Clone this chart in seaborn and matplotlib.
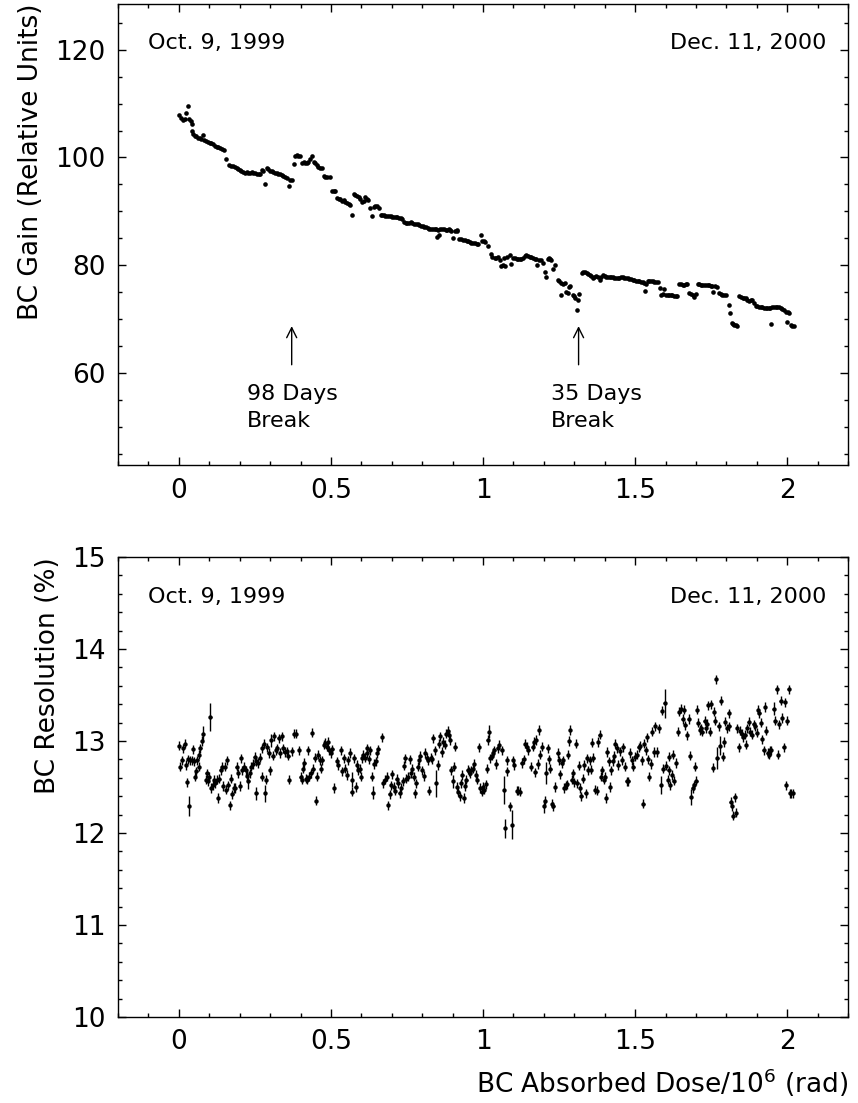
import numpy as np
import matplotlib
matplotlib.use("Agg")
import matplotlib.pyplot as plt
from matplotlib.ticker import MultipleLocator, FuncFormatter
import seaborn as sns

# BC gain vs absorbed dose (top panel)
gain_dose = [
    0.002, 0.008, 0.013, 0.019, 0.024, 0.031, 0.035, 0.040, 0.043, 0.044, 0.048, 0.052, 0.057, 0.062,
    0.068, 0.073, 0.079, 0.084, 0.090, 0.096, 0.102, 0.107, 0.112, 0.118, 0.124, 0.129, 0.135, 0.141,
    0.148, 0.156, 0.165, 0.172, 0.178, 0.184, 0.190, 0.195, 0.200, 0.206, 0.212, 0.217, 0.223, 0.228,
    0.233, 0.239, 0.245, 0.250, 0.256, 0.262, 0.267, 0.272, 0.278, 0.283, 0.289, 0.294, 0.300, 0.305,
    0.311, 0.316, 0.322, 0.327, 0.333, 0.338, 0.344, 0.350, 0.355, 0.363, 0.366, 0.371,
    0.377, 0.382, 0.388, 0.393, 0.399, 0.404, 0.410, 0.415, 0.421, 0.426, 0.432, 0.437, 0.443, 0.448,
    0.454, 0.459, 0.465, 0.470, 0.476, 0.481, 0.488, 0.496, 0.503, 0.509, 0.514, 0.520, 0.525, 0.531,
    0.536, 0.542, 0.547, 0.552, 0.558, 0.563, 0.569, 0.575, 0.580, 0.586, 0.592, 0.597, 0.602, 0.608,
    0.613, 0.618, 0.622, 0.630, 0.635, 0.640, 0.646, 0.651, 0.657, 0.663, 0.668, 0.674, 0.679, 0.685,
    0.690, 0.696, 0.701, 0.707, 0.713, 0.718, 0.724, 0.729, 0.735, 0.740, 0.746, 0.751, 0.757, 0.762,
    0.768, 0.773, 0.779, 0.785, 0.790, 0.796, 0.801, 0.807, 0.812, 0.818, 0.823, 0.828, 0.835, 0.841,
    0.846, 0.849, 0.852, 0.855, 0.860, 0.866, 0.871, 0.877, 0.882, 0.888, 0.891, 0.896, 0.902, 0.908,
    0.913, 0.916, 0.922, 0.929, 0.935, 0.940, 0.946, 0.951, 0.957, 0.962, 0.968, 0.973, 0.979, 0.984,
    0.992, 0.998, 1.003, 1.008, 1.016, 1.025, 1.031, 1.038, 1.044, 1.049, 1.055, 1.060, 1.066, 1.069,
    1.073, 1.080, 1.087, 1.093, 1.099, 1.104, 1.110, 1.115, 1.121, 1.126, 1.132, 1.137, 1.142, 1.148,
    1.153, 1.158, 1.164, 1.170, 1.175, 1.178, 1.184, 1.191, 1.197, 1.202, 1.208, 1.212, 1.216, 1.220,
    1.224, 1.230, 1.237, 1.246, 1.251, 1.255, 1.257, 1.262, 1.268, 1.273, 1.279, 1.283, 1.287, 1.295,
    1.299, 1.303, 1.309, 1.311, 1.317,
    1.325, 1.330, 1.336, 1.341, 1.346, 1.350, 1.356, 1.361, 1.366, 1.372, 1.377, 1.383, 1.389, 1.394,
    1.400, 1.405, 1.410, 1.416, 1.421, 1.426, 1.432, 1.437, 1.443, 1.448, 1.453, 1.459, 1.464, 1.470,
    1.475, 1.481, 1.486, 1.492, 1.497, 1.502, 1.508, 1.514, 1.519, 1.525, 1.530, 1.533, 1.536, 1.541,
    1.546, 1.552, 1.557, 1.563, 1.568, 1.574, 1.580, 1.585, 1.590, 1.596, 1.601, 1.607, 1.612, 1.617,
    1.622, 1.628, 1.633, 1.637, 1.645, 1.650, 1.656, 1.661, 1.667, 1.672, 1.678, 1.683, 1.689, 1.694,
    1.699, 1.705, 1.710, 1.716, 1.721, 1.727, 1.732, 1.738, 1.743, 1.749, 1.754, 1.757, 1.763, 1.770,
    1.776, 1.781, 1.787, 1.792, 1.798, 1.809, 1.812, 1.817, 1.821, 1.825, 1.830, 1.834, 1.842, 1.847,
    1.853, 1.858, 1.863, 1.869, 1.874, 1.880, 1.885, 1.890, 1.896, 1.901, 1.907, 1.912, 1.918, 1.923,
    1.929, 1.934, 1.940, 1.943, 1.945, 1.951, 1.956, 1.962, 1.967, 1.973, 1.978, 1.984, 1.989, 1.995,
    1.998, 2.001, 2.006, 2.011, 2.016, 2.022,
]
gain_val = [
    107.9, 107.3, 107.0, 107.1, 108.2, 109.5, 107.1, 106.8, 106.2, 104.9, 104.3, 104.0, 103.9, 103.7,
    103.6, 103.4, 104.2, 103.2, 103.0, 102.8, 102.7, 102.6, 102.5, 102.2, 102.0, 101.9, 101.7, 101.5,
    101.3, 99.7, 98.6, 98.5, 98.4, 98.3, 98.0, 97.9, 97.7, 97.5, 97.3, 97.2, 97.3, 97.2,
    97.2, 97.3, 97.2, 97.1, 97.0, 96.9, 96.9, 97.7, 97.5, 95.0, 98.0, 97.8, 97.5, 97.4,
    97.3, 97.2, 97.1, 97.0, 96.9, 96.8, 96.6, 96.4, 96.1, 94.7, 95.9, 95.8,
    98.8, 100.3, 100.4, 100.3, 100.3, 99.0, 99.1, 99.0, 98.9, 99.2, 99.8, 100.2, 99.2, 98.9,
    98.6, 98.3, 98.1, 98.0, 96.5, 96.4, 96.4, 96.4, 93.7, 93.8, 93.7, 92.4, 92.2, 92.2,
    92.0, 92.1, 91.8, 91.6, 91.4, 91.2, 89.4, 93.3, 93.1, 92.9, 92.7, 92.2, 91.8, 92.0,
    92.6, 92.3, 92.1, 90.6, 89.1, 90.8, 91.0, 90.9, 90.7, 89.3, 89.4, 89.3, 89.2, 89.1,
    89.2, 89.1, 89.0, 89.0, 88.9, 88.9, 88.8, 88.7, 88.5, 88.0, 87.8, 87.9, 87.9, 88.0,
    87.9, 87.7, 87.6, 87.6, 87.5, 87.3, 87.2, 87.1, 87.0, 86.9, 86.8, 86.7, 86.8, 86.7,
    86.7, 85.3, 86.6, 85.6, 86.7, 86.8, 86.7, 86.6, 86.5, 86.7, 86.6, 86.3, 85.0, 86.4,
    86.5, 86.4, 84.9, 84.8, 84.7, 84.6, 84.5, 84.4, 84.3, 84.2, 84.1, 84.1, 84.0, 83.9,
    85.6, 84.5, 84.4, 84.3, 83.5, 82.1, 81.6, 81.3, 81.4, 81.6, 80.9, 79.9, 80.0, 81.3,
    79.8, 81.5, 81.9, 80.2, 81.4, 81.3, 81.2, 81.1, 81.2, 81.1, 81.4, 81.8, 81.9, 81.7,
    81.6, 81.5, 81.4, 81.2, 81.1, 80.1, 81.0, 81.0, 80.4, 78.8, 77.8, 81.2, 81.3, 81.1,
    81.0, 79.3, 80.1, 77.3, 77.0, 74.5, 76.7, 76.5, 76.7, 75.1, 74.9, 76.0, 76.2, 74.5,
    74.3, 73.9, 71.6, 73.6, 74.7,
    78.5, 78.7, 78.8, 78.6, 78.3, 78.2, 78.0, 77.6, 77.9, 78.0, 77.9, 77.2, 77.9, 78.2,
    78.0, 77.9, 77.9, 77.8, 77.9, 77.8, 77.7, 77.6, 77.6, 77.7, 77.8, 77.8, 77.7, 77.6,
    77.6, 77.5, 77.4, 77.3, 77.2, 77.1, 77.0, 77.0, 76.9, 76.8, 76.7, 75.3, 76.6, 77.0,
    77.0, 77.0, 77.0, 76.9, 76.9, 76.8, 75.7, 74.5, 74.6, 75.6, 74.5, 74.5, 74.4, 74.4,
    74.4, 74.3, 74.3, 74.3, 76.5, 76.6, 76.4, 76.3, 76.5, 76.5, 74.9, 74.6, 74.5, 74.1,
    74.6, 76.5, 76.5, 76.4, 76.4, 76.4, 76.3, 76.3, 76.3, 76.2, 76.2, 75.1, 76.1, 76.0,
    74.8, 74.6, 74.5, 74.5, 74.4, 72.6, 71.1, 69.2, 69.0, 68.9, 68.9, 68.8, 74.2, 74.1,
    74.0, 73.9, 73.9, 73.6, 73.4, 73.5, 73.6, 73.0, 72.4, 72.4, 72.3, 72.3, 72.2, 72.1,
    72.0, 72.0, 72.1, 72.0, 69.1, 72.2, 72.3, 72.3, 72.2, 72.2, 72.0, 71.8, 71.6, 71.4,
    69.4, 71.3, 71.2, 68.9, 68.8, 68.8,
]

# BC resolution vs absorbed dose (bottom panel)
res_dose = [
    0.001, 0.005, 0.012, 0.014, 0.020, 0.023, 0.027, 0.031, 0.034, 0.038, 0.043, 0.047, 0.049, 0.053,
    0.058, 0.061, 0.065, 0.067, 0.071, 0.076, 0.080, 0.089, 0.091, 0.095, 0.100, 0.104, 0.107, 0.111,
    0.115, 0.120, 0.124, 0.129, 0.133, 0.137, 0.141, 0.146, 0.151, 0.155, 0.159, 0.163, 0.168, 0.172,
    0.176, 0.181, 0.185, 0.190, 0.195, 0.201, 0.205, 0.209, 0.214, 0.220, 0.225, 0.229, 0.234, 0.238,
    0.245, 0.249, 0.253, 0.255, 0.261, 0.266, 0.272, 0.275, 0.280, 0.284, 0.286, 0.291, 0.295, 0.299,
    0.304, 0.308, 0.313, 0.319, 0.323, 0.328, 0.332, 0.339, 0.343, 0.349, 0.354, 0.360, 0.363, 0.371,
    0.380, 0.384, 0.395, 0.400, 0.405, 0.409, 0.413, 0.418, 0.422, 0.425, 0.429, 0.433, 0.437, 0.442,
    0.446, 0.450, 0.453, 0.459, 0.464, 0.468, 0.472, 0.477, 0.481, 0.486, 0.490, 0.495, 0.499, 0.505,
    0.510, 0.519, 0.524, 0.533, 0.537, 0.542, 0.546, 0.553, 0.557, 0.563, 0.568, 0.570, 0.577, 0.581,
    0.586, 0.590, 0.595, 0.599, 0.603, 0.607, 0.612, 0.617, 0.620, 0.626, 0.629, 0.634, 0.637, 0.643,
    0.647, 0.651, 0.656, 0.667, 0.672, 0.677, 0.683, 0.688, 0.693, 0.697, 0.701, 0.706, 0.710, 0.716,
    0.719, 0.726, 0.730, 0.737, 0.741, 0.745, 0.748, 0.754, 0.760, 0.763, 0.767, 0.772, 0.776, 0.781,
    0.785, 0.789, 0.794, 0.800, 0.805, 0.809, 0.815, 0.820, 0.823, 0.829, 0.833, 0.837, 0.842, 0.846,
    0.851, 0.855, 0.859, 0.864, 0.869, 0.875, 0.879, 0.884, 0.888, 0.892, 0.896, 0.901, 0.905, 0.909,
    0.914, 0.918, 0.923, 0.927, 0.932, 0.936, 0.940, 0.945, 0.949, 0.954, 0.958, 0.962, 0.967, 0.971,
    0.976, 0.980, 0.987, 0.991, 0.996, 1.000, 1.004, 1.009, 1.013, 1.015, 1.020, 1.024, 1.029, 1.033,
    1.037, 1.044, 1.048, 1.053, 1.061, 1.069, 1.072, 1.078, 1.080, 1.089, 1.095, 1.098, 1.102, 1.111,
    1.116, 1.121, 1.127, 1.133, 1.138, 1.144, 1.149, 1.157, 1.163, 1.168, 1.172, 1.174, 1.179, 1.183,
    1.188, 1.194, 1.200, 1.204, 1.207, 1.212, 1.216, 1.221, 1.226, 1.231, 1.237, 1.245, 1.249, 1.254,
    1.258, 1.262, 1.267, 1.271, 1.275, 1.280, 1.284, 1.286, 1.291, 1.295, 1.299, 1.306, 1.310, 1.315,
    1.319, 1.323, 1.328, 1.332, 1.337, 1.341, 1.345, 1.350, 1.354, 1.359, 1.363, 1.368, 1.374, 1.378,
    1.383, 1.387, 1.391, 1.396, 1.401, 1.404, 1.409, 1.413, 1.417, 1.422, 1.426, 1.431, 1.435, 1.439,
    1.445, 1.450, 1.456, 1.461, 1.467, 1.472, 1.478, 1.483, 1.489, 1.494, 1.500, 1.505, 1.511, 1.516,
    1.522, 1.527, 1.529, 1.534, 1.538, 1.543, 1.546, 1.552, 1.556, 1.561, 1.566, 1.572, 1.577, 1.584,
    1.589, 1.593, 1.597, 1.602, 1.607, 1.610, 1.612, 1.615, 1.621, 1.623, 1.626, 1.634, 1.640, 1.645,
    1.651, 1.656, 1.660, 1.665, 1.670, 1.676, 1.681, 1.684, 1.689, 1.693, 1.698, 1.701, 1.704, 1.708,
    1.713, 1.718, 1.721, 1.728, 1.732, 1.737, 1.741, 1.746, 1.750, 1.755, 1.759, 1.763, 1.765, 1.770,
    1.774, 1.779, 1.782, 1.788, 1.792, 1.796, 1.801, 1.807, 1.810, 1.814, 1.818, 1.823, 1.827, 1.831,
    1.835, 1.840, 1.845, 1.851, 1.856, 1.862, 1.865, 1.869, 1.873, 1.878, 1.884, 1.889, 1.895, 1.899,
    1.904, 1.908, 1.913, 1.917, 1.922, 1.926, 1.930, 1.935, 1.939, 1.943, 1.947, 1.955, 1.961, 1.965,
    1.969, 1.973, 1.978, 1.982, 1.988, 1.991, 1.995, 2.000, 2.004, 2.008, 2.013, 2.018,
]
res_val = [
    12.95, 12.72, 12.79, 12.92, 12.97, 12.74, 12.55, 12.80, 12.29, 12.79, 12.79, 12.91, 12.78, 12.61,
    12.67, 12.79, 12.72, 12.85, 12.92, 13.00, 13.08, 12.58, 12.65, 12.56, 12.61, 13.26, 12.49, 12.52,
    12.58, 12.54, 12.58, 12.38, 12.59, 12.68, 12.72, 12.51, 12.72, 12.47, 12.79, 12.52, 12.30, 12.59,
    12.42, 12.49, 12.49, 12.72, 12.65, 12.51, 12.81, 12.68, 12.72, 12.68, 12.62, 12.56, 12.65, 12.72,
    12.75, 12.83, 12.78, 12.43, 12.76, 12.82, 12.61, 12.92, 12.97, 12.43, 12.58, 12.93, 12.87, 12.68,
    13.01, 12.84, 13.05, 12.90, 12.92, 13.03, 12.87, 13.05, 12.92, 12.88, 12.89, 12.84, 12.58, 12.89,
    13.08, 13.08, 12.90, 12.61, 12.58, 12.70, 12.76, 12.59, 12.58, 12.90, 12.61, 12.65, 13.09, 12.70,
    12.82, 12.35, 12.61, 12.85, 12.79, 12.70, 12.79, 12.96, 12.98, 12.94, 12.99, 12.90, 12.87, 12.91,
    12.49, 12.78, 12.74, 12.90, 12.67, 12.81, 12.70, 12.63, 12.79, 12.87, 12.45, 12.58, 12.81, 12.50,
    12.74, 12.68, 12.70, 12.61, 12.81, 12.85, 12.82, 12.87, 12.92, 12.80, 12.90, 12.61, 12.44, 12.75,
    12.78, 12.87, 12.91, 13.04, 12.54, 12.58, 12.61, 12.30, 12.42, 12.52, 12.64, 12.50, 12.46, 12.59,
    12.54, 12.43, 12.49, 12.56, 12.73, 12.81, 12.59, 12.61, 12.80, 12.65, 12.70, 12.61, 12.43, 12.54,
    12.72, 12.79, 12.84, 12.68, 12.62, 12.87, 12.82, 12.79, 12.46, 12.82, 12.80, 13.03, 12.90, 12.54,
    12.74, 12.97, 13.05, 12.88, 12.99, 12.96, 13.08, 13.11, 13.07, 13.01, 12.68, 12.56, 12.72, 12.94,
    12.50, 12.45, 12.40, 12.54, 12.63, 12.38, 12.51, 12.58, 12.69, 12.67, 12.65, 12.68, 12.70, 12.75,
    12.63, 12.58, 12.93, 12.49, 12.45, 12.50, 12.47, 12.53, 12.70, 13.01, 13.10, 12.81, 12.84, 12.87,
    12.90, 12.75, 12.92, 12.96, 12.90, 12.47, 12.05, 12.79, 12.67, 12.29, 12.09, 12.79, 12.74, 12.46,
    12.46, 12.45, 12.76, 12.80, 12.97, 12.94, 12.90, 12.72, 12.94, 12.99, 12.66, 13.01, 12.75, 13.12,
    12.85, 12.94, 12.29, 12.35, 12.65, 12.92, 12.80, 12.70, 12.32, 12.29, 12.50, 12.87, 12.79, 12.64,
    12.76, 12.79, 12.49, 12.52, 12.53, 12.85, 13.00, 13.12, 12.58, 12.65, 12.55, 12.97, 12.54, 12.73,
    12.49, 12.40, 12.59, 12.74, 12.43, 12.81, 12.68, 12.79, 12.69, 12.98, 12.82, 12.47, 12.46, 12.99,
    13.07, 12.61, 12.68, 12.58, 12.61, 12.38, 12.88, 12.78, 12.50, 12.68, 12.78, 12.84, 12.97, 12.92,
    12.74, 12.89, 12.79, 12.93, 12.72, 12.56, 12.56, 12.87, 12.79, 12.72, 12.83, 12.85, 12.93, 12.95,
    12.79, 12.32, 12.97, 12.90, 13.04, 12.80, 12.61, 12.75, 13.10, 12.88, 13.16, 12.88, 13.14, 12.52,
    13.33, 12.70, 13.41, 12.73, 12.58, 12.68, 12.83, 12.52, 12.63, 12.85, 12.57, 12.76, 13.10, 13.32,
    13.35, 13.24, 13.34, 13.17, 13.06, 13.24, 12.84, 12.39, 12.49, 12.52, 12.72, 12.57, 13.34, 13.20,
    13.12, 13.14, 13.10, 13.22, 13.14, 13.19, 13.39, 13.10, 13.40, 12.71, 13.32, 13.22, 13.67, 12.82,
    13.16, 12.95, 13.44, 12.83, 12.99, 13.21, 13.14, 13.30, 13.16, 12.34, 12.29, 12.19, 12.39, 12.22,
    13.14, 12.93, 13.11, 13.08, 13.04, 13.07, 12.96, 13.14, 13.21, 13.10, 13.07, 13.18, 13.16, 13.09,
    13.34, 13.30, 13.20, 13.02, 12.90, 13.37, 13.11, 12.87, 12.85, 12.90, 12.90, 13.35, 13.22, 13.56,
    12.85, 13.18, 13.44, 13.25, 12.93, 13.42, 12.52, 13.22, 13.56, 12.43, 12.43, 12.43,
]
# points whose error bar is visibly longer than the usual +-0.05
res_big_err = {
    0.034: 0.11, 0.080: 0.08, 0.104: 0.15, 0.229: 0.08, 0.255: 0.07, 0.284: 0.09, 0.304: 0.07,
    0.570: 0.08, 0.637: 0.07, 0.846: 0.15, 0.901: 0.07, 1.020: 0.07, 1.069: 0.15, 1.072: 0.10,
    1.095: 0.16, 1.200: 0.07, 1.207: 0.12, 1.584: 0.10, 1.597: 0.16, 1.684: 0.09, 1.770: 0.12,
    1.779: 0.10, 1.955: 0.07,
}
res_err = [res_big_err.get(d, 0.05) for d in res_dose]

sns.set_style("ticks")
plt.rcParams['font.family'] = ['DejaVu Sans']
plt.rcParams['text.color'] = 'black'
plt.rcParams['axes.labelcolor'] = 'black'
plt.rcParams['xtick.color'] = 'black'
plt.rcParams['ytick.color'] = 'black'

fig = plt.figure(figsize=(8.58, 11.03), dpi=100)
ax1 = fig.add_axes([0.1375, 0.5784, 0.851, 0.418])
ax2 = fig.add_axes([0.1375, 0.078, 0.851, 0.417])

fmt = FuncFormatter(lambda v, p: '{:g}'.format(round(v, 3)))

for ax in (ax1, ax2):
    ax.set_xlim(-0.2, 2.2)
    ax.xaxis.set_major_locator(MultipleLocator(0.5))
    ax.xaxis.set_minor_locator(MultipleLocator(0.1))
    ax.xaxis.set_major_formatter(fmt)
    ax.yaxis.set_major_formatter(fmt)
    ax.tick_params(which='both', direction='in', top=True, right=True, width=1, colors='black')
    ax.tick_params(which='major', length=6, labelsize=19, pad=9)
    ax.tick_params(which='minor', length=3)
    for sp in ax.spines.values():
        sp.set_linewidth(1.0)
        sp.set_color('black')

# top: gain
sns.scatterplot(x=gain_dose, y=gain_val, ax=ax1, s=11, color='black', linewidth=0)
ax1.set_ylim(42.9, 128.5)
ax1.yaxis.set_major_locator(MultipleLocator(20))
ax1.yaxis.set_minor_locator(MultipleLocator(5))
ax1.set_ylabel('BC Gain (Relative Units)', fontsize=19, loc='top', labelpad=8)
ax1.text(-0.1, 120.2, 'Oct. 9, 1999', fontsize=16, ha='left', va='baseline')
ax1.text(2.13, 120.2, 'Dec. 11, 2000', fontsize=16, ha='right', va='baseline')

arrow = dict(arrowstyle='->', lw=1, color='black', mutation_scale=18)
ax1.annotate('', xy=(0.371, 69.2), xytext=(0.371, 61.0), arrowprops=arrow)
ax1.annotate('', xy=(1.314, 69.2), xytext=(1.314, 61.0), arrowprops=arrow)
ax1.text(0.224, 55.0, '98 Days', fontsize=16, ha='left', va='baseline')
ax1.text(0.224, 50.0, 'Break', fontsize=16, ha='left', va='baseline')
ax1.text(1.223, 55.0, '35 Days', fontsize=16, ha='left', va='baseline')
ax1.text(1.223, 50.0, 'Break', fontsize=16, ha='left', va='baseline')

# bottom: resolution
ax2.errorbar(res_dose, res_val, yerr=res_err, xerr=0.004, fmt='none',
             ecolor='black', elinewidth=1.0, capsize=0)
sns.scatterplot(x=res_dose, y=res_val, ax=ax2, s=10, color='black', linewidth=0, zorder=3)
ax2.set_ylim(10, 15)
ax2.yaxis.set_major_locator(MultipleLocator(1))
ax2.yaxis.set_minor_locator(MultipleLocator(0.2))
ax2.set_ylabel('BC Resolution (%)', fontsize=19, loc='top', labelpad=8)
ax2.set_xlabel('BC Absorbed Dose/10$^{6}$ (rad)', fontsize=19, loc='right', labelpad=8)
ax2.text(-0.1, 14.5, 'Oct. 9, 1999', fontsize=16, ha='left', va='baseline')
ax2.text(2.13, 14.5, 'Dec. 11, 2000', fontsize=16, ha='right', va='baseline')

fig.savefig('out.png', dpi=100)
